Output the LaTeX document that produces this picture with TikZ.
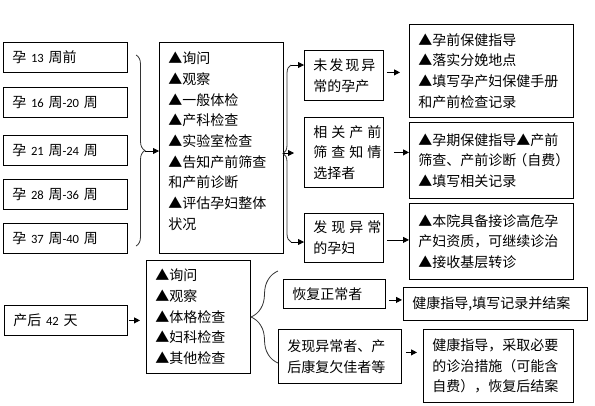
\documentclass[tikz,border=0pt]{standalone}
\usepackage{fontspec}
\setmainfont{Noto Sans CJK SC}
\newfontfamily\numfont[Scale=0.9]{Carlito}
\usetikzlibrary{arrows.meta}
\usetikzlibrary{decorations.pathreplacing}

\tikzset{
  box/.style={draw, line width=0.8pt, anchor=north west, inner xsep=9pt, inner ysep=0pt,
    font=\fontsize{14pt}{20.7pt}\selectfont},
  arr/.style={-{Triangle[length=6pt,width=6pt]}, line width=0.8pt},
  brc/.style={decorate, decoration={brace, amplitude=#1}, line width=0.8pt, black!80},
}

\begin{document}
\begin{tikzpicture}[x=1pt, y=-1pt]
    \useasboundingbox (0,0) rectangle (595,405);

    % draw week boxes
    \foreach \n/\y/\t in {1/42/{孕 {\numfont 13} 周前}, 2/87/{孕 {\numfont 16} 周{\numfont -20} 周},
        3/135/{孕 {\numfont 21} 周{\numfont -24} 周}, 4/179/{孕 {\numfont 28} 周{\numfont -36} 周},
        5/223/{孕 {\numfont 37} 周{\numfont -40} 周}}
      \node[box, text width=106pt, minimum height=30pt] (wk\n) at (3,\y) {\t};

    % draw check box
    \node[box, text width=106pt, text height=21.3pt, text depth=189.7pt] (check) at (159,42)
      {▲询问\\▲观察\\▲一般体检\\▲产科检查\\▲实验室检查\\▲告知产前筛查\\和产前诊断\\▲评估孕妇整体\\状况};

    % draw result boxes
    \node[box, text width=61pt, minimum height=50pt] (normal) at (304,50)
      {\makebox[62pt][s]{未\hfil 发\hfil 现\hfil 异}\\常的孕产};
    \node[box, text width=61pt, minimum height=70pt] (screen) at (304,117)
      {\makebox[68pt][s]{相\hfil 关\hfil 产\hfil 前}\\\makebox[68pt][s]{筛\hfil 查\hfil 知\hfil 情}\\选择者};
    \node[box, text width=61pt, minimum height=49pt] (abnormal) at (304,213)
      {\makebox[68pt][s]{发\hfil 现\hfil 异\hfil 常}\\的孕妇};

    % draw advice boxes
    \node[box, text width=146pt, minimum height=93pt] (adviceA) at (409,24)
      {▲孕前保健指导\\▲落实分娩地点\\▲填写孕产妇保健手册\\和产前检查记录};
    \node[box, text width=146pt, minimum height=76pt] (adviceB) at (409,122)
      {▲孕期保健指导▲产前\\筛查、产前诊断\kern-3pt（自费）\\▲填写相关记录};
    \node[box, text width=146pt, minimum height=76pt] (adviceC) at (409,203)
      {▲本院具备接诊高危孕\\产妇资质，可继续诊治\\▲接收基层转诊};

    % draw postnatal boxes
    \node[box, text width=105pt, minimum height=30pt] (postnatal) at (4,305) {产后 {\numfont 42} 天};
    \node[box, text width=86pt, minimum height=113pt] (exam) at (146,260)
      {▲询问\\▲观察\\▲体格检查\\▲妇科检查\\▲其他检查};
    \node[box, text width=84pt, minimum height=29pt] (recover) at (283,279) {恢复正常者};
    \node[box, text width=105pt, minimum height=54pt] (poor) at (278,329)
      {发现异常者、产\\后康复欠佳者等};
    \node[box, text width=166pt, minimum height=33pt] (closeA) at (403,287) {健康指导,填写记录并结案};
    \node[box, text width=132pt, minimum height=73pt] (closeB) at (423,329)
      {健康指导，采取必要\\的诊治措施（可能含\\自费），恢复后结案};

    % draw braces
    \coordinate (lbT) at (136,55);
    \coordinate (lbB) at (136,246);
    \coordinate (lbTip) at (145,151);
    \draw[brc=9pt] (lbT) -- (lbB);
    \draw[arr] (lbTip) -- (lbTip -| check.west);

    \coordinate (rbT) at (291,65);
    \coordinate (rbB) at (291,242);
    \coordinate (rbTip) at (283,153);
    \coordinate (rbM) at (294,153);
    \draw[brc=8pt] (rbB) -- (rbT);
    \draw[arr] (rbT) -- (rbT -| normal.west);
    \draw[arr] (rbTip) -- (rbM);
    \draw[arr] (rbB) -- (rbB -| abnormal.west);

    \coordinate (bbT) at (278,271);
    \coordinate (bbB) at (278,363);
    \draw[brc=27pt] (bbB) -- (bbT);

    % draw arrows
    \draw[arr, shorten <=3pt, shorten >=9pt] ([yshift=3pt]normal.east) -- ([yshift=3pt]normal.east -| adviceA.west);
    \draw[arr, shorten <=10pt] (screen.east) -- (screen.east -| adviceB.west);
    \draw[arr, shorten <=3pt] ([yshift=-2pt]abnormal.east) -- ([yshift=-2pt]abnormal.east -| adviceC.west);
    \draw[arr, shorten <=1pt, shorten >=6pt] (postnatal.east) -- (postnatal.east -| exam.west);
    \draw[arr, shorten <=3pt, shorten >=1pt] ([yshift=-6pt]recover.east) -- ([yshift=-6pt]recover.east -| closeA.west);
    \draw[arr, shorten <=4pt, shorten >=6pt] ([yshift=4pt]poor.east) -- ([yshift=4pt]poor.east -| closeB.west);
\end{tikzpicture}
\end{document}
